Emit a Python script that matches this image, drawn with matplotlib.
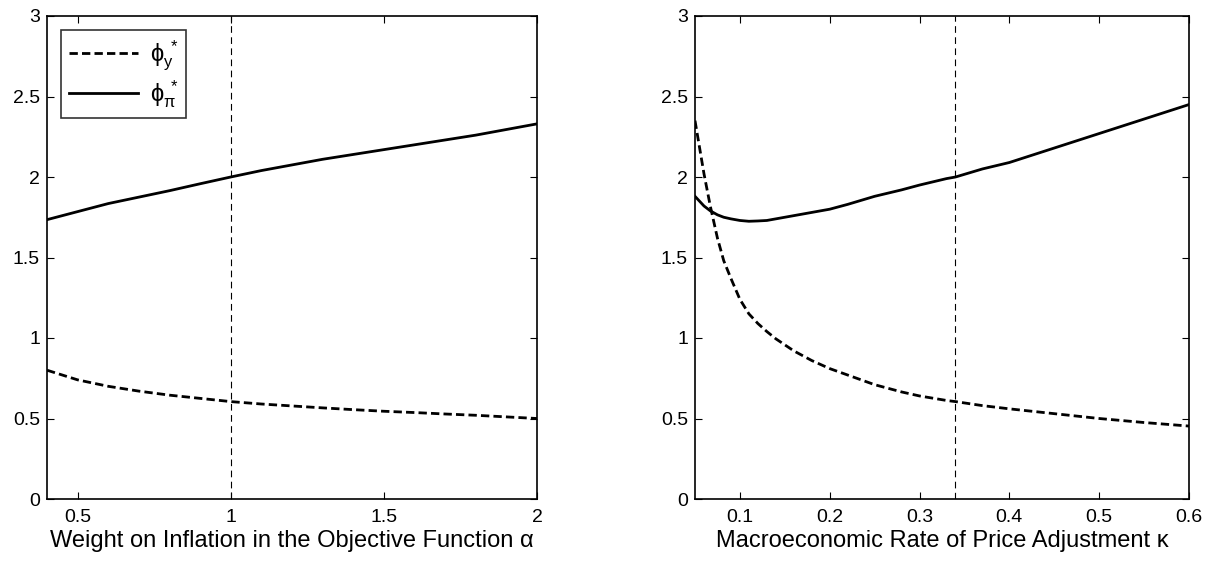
import matplotlib
matplotlib.use("Agg")
import matplotlib.pyplot as plt

plt.rcParams['font.family'] = ['Liberation Sans', 'DejaVu Sans']
plt.rcParams['mathtext.fontset'] = 'custom'
plt.rcParams['mathtext.rm'] = 'Liberation Sans'
plt.rcParams['mathtext.it'] = 'Liberation Sans'

# left panel: weight on inflation alpha
alpha = [0.4, 0.5, 0.6, 0.7, 0.8, 0.9, 1.0, 1.1, 1.2, 1.3, 1.4, 1.5, 1.6, 1.7, 1.8, 1.9, 2.0]
phi_pi_a = [1.735, 1.785, 1.835, 1.875, 1.915, 1.958, 2.0, 2.04, 2.075, 2.11, 2.14, 2.17, 2.2, 2.23, 2.26, 2.295, 2.33]
phi_y_a = [0.80, 0.74, 0.70, 0.67, 0.645, 0.625, 0.605, 0.59, 0.578, 0.566, 0.555, 0.545, 0.537, 0.528, 0.52, 0.51, 0.50]

# right panel: rate of price adjustment kappa
kappa = [0.05, 0.06, 0.067, 0.075, 0.082, 0.09, 0.10, 0.11, 0.12, 0.13, 0.14, 0.16, 0.18, 0.20,
         0.22, 0.25, 0.28, 0.30, 0.33, 0.34, 0.37, 0.40, 0.45, 0.50, 0.55, 0.60]
phi_pi_k = [1.88, 1.82, 1.79, 1.765, 1.75, 1.74, 1.73, 1.725, 1.727, 1.73, 1.74, 1.76, 1.78, 1.80,
            1.83, 1.88, 1.92, 1.95, 1.99, 2.0, 2.05, 2.09, 2.18, 2.27, 2.36, 2.45]
phi_y_k = [2.35, 2.02, 1.82, 1.62, 1.48, 1.37, 1.24, 1.15, 1.09, 1.04, 0.995, 0.92, 0.86, 0.81,
           0.77, 0.71, 0.665, 0.64, 0.612, 0.605, 0.58, 0.56, 0.53, 0.50, 0.475, 0.453]

fig = plt.figure(figsize=(12.14, 5.65), dpi=100)
ax1 = fig.add_axes([47 / 1214, 1 - 499 / 565, 490 / 1214, 483 / 565])
ax2 = fig.add_axes([695 / 1214, 1 - 499 / 565, 494 / 1214, 483 / 565])

ax1.plot(alpha, phi_y_a, 'k--', lw=2, dashes=(3, 1.5), label=r'$\phi_y^{\,*}$')
ax1.plot(alpha, phi_pi_a, 'k-', lw=2, label=r'$\phi_\pi^{\,*}$')
ax1.axvline(1.0, color='k', ls=(0, (6, 4)), lw=0.8)
ax1.set_xlim(0.4, 2)
ax1.set_xticks([0.5, 1, 1.5, 2])
ax1.set_xticklabels(['0.5', '1', '1.5', '2'])
ax1.set_xlabel('Weight on Inflation in the Objective Function α', fontsize=17, labelpad=3)
leg = ax1.legend(loc='upper left', fontsize=17, frameon=True, fancybox=False,
                 edgecolor='k', handlelength=2.9, handletextpad=0.5, borderaxespad=0.6,
                 labelspacing=0.25, borderpad=0.35)
leg.get_frame().set_linewidth(1.2)

ax2.plot(kappa, phi_y_k, 'k--', lw=2, dashes=(3, 1.5))
ax2.plot(kappa, phi_pi_k, 'k-', lw=2)
ax2.axvline(0.34, color='k', ls=(0, (6, 4)), lw=0.8)
ax2.set_xlim(0.05, 0.6)
ax2.set_xticks([0.1, 0.2, 0.3, 0.4, 0.5, 0.6])
ax2.set_xlabel('Macroeconomic Rate of Price Adjustment κ', fontsize=17, labelpad=3)

for ax in (ax1, ax2):
    ax.set_ylim(0, 3)
    ax.set_yticks([0, 0.5, 1, 1.5, 2, 2.5, 3])
    ax.set_yticklabels(['0', '0.5', '1', '1.5', '2', '2.5', '3'])
    ax.tick_params(direction='in', top=True, right=True, labelsize=14, length=5, width=0.8)
    ax.tick_params(axis='x', pad=7)
    ax.tick_params(axis='y', pad=5)
    for s in ax.spines.values():
        s.set_linewidth(1.2)

fig.savefig('out.png', dpi=100)
